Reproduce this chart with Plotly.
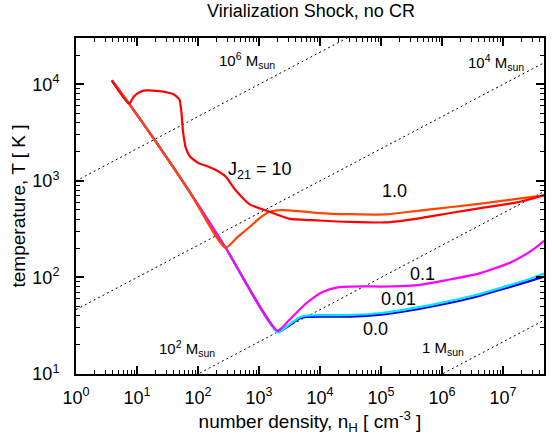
import numpy as np
import plotly.graph_objects as go

# ---------------- data (log10 n_H , log10 T) ----------------
# J21 = 10
j10_logn = [0.588, 0.87, 0.95, 1.05, 1.14, 1.36, 1.5, 1.605, 1.67, 1.70, 1.72, 1.73,
            1.752, 1.775, 1.796, 1.85, 1.905, 2.02, 2.12, 2.30, 2.46, 2.57, 2.62, 2.84,
            3.17, 3.49, 3.98, 4.5, 5.07, 5.6, 6.16, 6.7, 7.25, 7.67]
j10_logT = [4.04, 3.80, 3.875, 3.92, 3.937, 3.93, 3.915, 3.895, 3.86, 3.833, 3.75, 3.696,
            3.52, 3.42, 3.35, 3.27, 3.23, 3.18, 3.16, 3.11, 3.04, 2.94, 2.90, 2.76,
            2.68, 2.61, 2.59, 2.575, 2.57, 2.61, 2.67, 2.725, 2.78, 2.85]

# J21 = 1.0
j1_logn = [0.588, 0.87, 1.317, 1.85, 2.45, 2.65, 2.84, 3.0, 3.17, 3.3, 3.49, 3.98, 4.5,
           5.07, 5.6, 6.16, 6.7, 7.25, 7.67]
j1_logT = [4.04, 3.80, 3.40, 2.90, 2.31, 2.42, 2.52, 2.61, 2.68, 2.695, 2.695, 2.667, 2.655,
           2.653, 2.69, 2.73, 2.77, 2.816, 2.85]

# J21 = 0.1
j01_logn = [0.588, 0.87, 1.317, 1.85, 2.45, 3.30, 3.49, 3.77, 4.04, 4.31, 4.75, 5.0, 5.6,
            6.05, 6.6, 7.14, 7.47, 7.67]
j01_logT = [4.04, 3.80, 3.40, 2.90, 2.31, 1.45, 1.556, 1.73, 1.85, 1.90, 1.908, 1.905, 1.92,
            1.97, 2.04, 2.16, 2.28, 2.38]

# J21 = 0.01
j001_logn = [0.588, 0.87, 1.317, 1.85, 2.45, 3.31, 3.49, 3.66, 3.77, 4.0, 4.5, 5.0, 5.5,
             6.0, 6.5, 7.0, 7.5, 7.67]
j001_logT = [4.04, 3.80, 3.40, 2.90, 2.31, 1.43, 1.51, 1.585, 1.605, 1.61, 1.612, 1.632, 1.68,
             1.74, 1.81, 1.90, 2.0, 2.04]

# J21 = 0.0
j0_logn = [0.588, 0.87, 1.317, 1.85, 2.45, 3.31, 3.49, 3.66, 3.77, 4.0, 4.5, 5.0, 5.5,
           6.0, 6.5, 7.0, 7.5, 7.67]
j0_logT = [4.04, 3.80, 3.40, 2.90, 2.31, 1.44, 1.50, 1.574, 1.59, 1.595, 1.595, 1.615, 1.66,
           1.72, 1.79, 1.88, 1.975, 2.01]

# Jeans masses for the dotted reference lines [Msun]
jeans_masses = [1e6, 1e4, 1e2, 1.0]

x_tick_exp = [0, 1, 2, 3, 4, 5, 6, 7]
y_tick_exp = [1, 2, 3, 4]

series = [
    ("0.0", j0_logn, j0_logT, "#0000e6"),
    ("0.01", j001_logn, j001_logT, "#00e5ff"),
    ("0.1", j01_logn, j01_logT, "#ff00ff"),
    ("1.0", j1_logn, j1_logT, "#ff4500"),
    ("10", j10_logn, j10_logT, "#ff0000"),
]

FONT = "Liberation Sans, Arial, sans-serif"
fig = go.Figure()

# dotted Jeans-mass lines: T = 1000 K (M/1e6)^(2/3) n^(1/3)
n_line = np.logspace(0, 7.67, 40)
for M in jeans_masses:
    T_line = 1000.0 * (M / 1e6) ** (2.0 / 3.0) * n_line ** (1.0 / 3.0)
    fig.add_trace(go.Scatter(x=n_line, y=T_line, mode="lines",
                             line=dict(color="black", width=1, dash="2px,3px"),
                             showlegend=False, hoverinfo="skip"))

for name, ln, lt, col in series:
    fig.add_trace(go.Scatter(x=10 ** np.array(ln), y=10 ** np.array(lt), mode="lines",
                             line=dict(color=col, width=2.2, shape="spline", smoothing=0.6),
                             name=name, showlegend=False))

ann = [
    (2.81, 4.247, "10<sup>6</sup> M<sub>sun</sub>", 15),
    (6.89, 4.227, "10<sup>4</sup> M<sub>sun</sub>", 15),
    (1.82, 1.263, "10<sup>2</sup> M<sub>sun</sub>", 15),
    (6.01, 1.263, "1 M<sub>sun</sub>", 15),
    (3.02, 3.109, "J<sub>21</sub> = 10", 18),
    (5.22, 2.90, "1.0", 18),
    (5.68, 2.04, "0.1", 18),
    (5.29, 1.773, "0.01", 18),
    (4.906, 1.47, "0.0", 18),
]
for lx, ly, txt, fs in ann:
    fig.add_annotation(x=lx, y=ly, text=txt, showarrow=False,
                       font=dict(size=fs, color="black", family=FONT),
                       xanchor="center", yanchor="middle")


def minor_vals(lo, hi):
    return [k * 10.0 ** e for e in range(lo, hi + 1) for k in range(2, 10)]


axis_common = dict(type="log", showgrid=False, zeroline=False, showline=True,
                   linecolor="black", linewidth=2, mirror="allticks",
                   ticks="inside", ticklen=8, tickwidth=1.5, tickcolor="black",
                   tickfont=dict(size=18, color="black", family=FONT))

fig.update_xaxes(**axis_common, range=[0, 7.67],
                 tickvals=[10 ** e for e in x_tick_exp],
                 ticktext=["10<sup>%d</sup>" % e for e in x_tick_exp],
                 minor=dict(ticks="inside", ticklen=4, tickwidth=1, tickcolor="black",
                            showgrid=False, tickmode="array", tickvals=minor_vals(0, 7)),
                 ticklabelstandoff=6,
                 title=dict(text="number density, n<sub>H</sub> [ cm<sup>-3</sup> ]",
                            font=dict(size=19, color="black", family=FONT), standoff=6))
fig.update_yaxes(**axis_common, range=[1, 4.48],
                 tickvals=[10 ** e for e in y_tick_exp],
                 ticktext=["10<sup>%d</sup>" % e for e in y_tick_exp],
                 minor=dict(ticks="inside", ticklen=4, tickwidth=1, tickcolor="black",
                            showgrid=False, tickmode="array", tickvals=minor_vals(1, 4)),
                 ticklabelstandoff=11,
                 title=dict(text="temperature, T [ K ]",
                            font=dict(size=19, color="black", family=FONT), standoff=2))

fig.update_layout(
    width=552, height=437,
    margin=dict(l=76, r=6, t=38, b=63),
    paper_bgcolor="white", plot_bgcolor="white",
    title=dict(text="Virialization Shock, no CR", x=0.5634, xanchor="center",
               y=0.975, yanchor="middle",
               font=dict(size=18, color="black", family=FONT)),
    font=dict(family=FONT, color="black"),
)

fig.write_html("out.html")
